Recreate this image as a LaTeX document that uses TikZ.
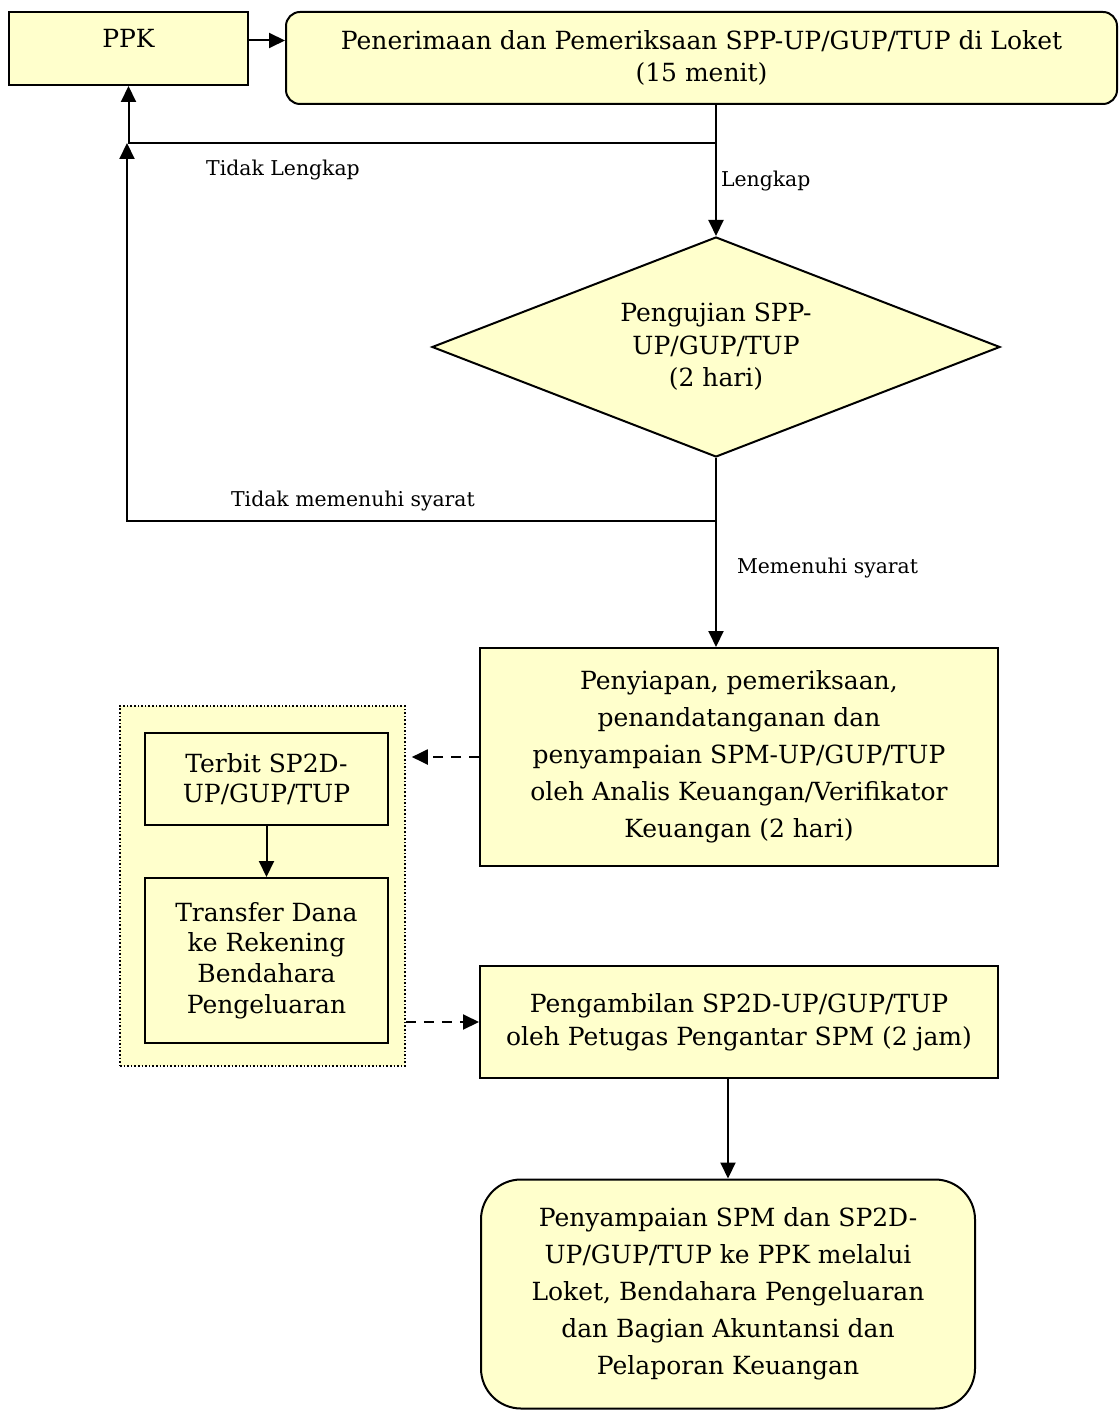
\documentclass[tikz,border=0pt]{standalone}
\usepackage{fontspec}
\setmainfont{DejaVu Serif}
\usepackage{tikz}
\usetikzlibrary{arrows.meta,shapes,positioning}
\usepackage{xcolor}
\definecolor{kuning}{RGB}{255,255,204}
\tikzstyle{arrow} = [line width=1pt,->,>={Triangle[length=8pt,width=7.5pt]}]
\tikzstyle{dasharrow} = [arrow, dashed, dash pattern=on 5pt off 4pt]
\tikzstyle{box} = [rectangle, draw=black, fill=kuning, line width=1pt, align=center, inner sep=0pt, font=\fontsize{12.5}{18.5}\selectfont]
\tikzstyle{roundbox} = [box, rounded corners=7pt]
\tikzstyle{smallbox} = [box, font=\fontsize{12.5}{15.3}\selectfont]
\tikzstyle{cek} = [diamond, aspect=2.6, draw=black, fill=kuning, line width=1pt, align=center, inner sep=0pt, font=\fontsize{12.5}{16.3}\selectfont]
\tikzstyle{ket} = [font=\fontsize{10.2}{12}\selectfont, inner sep=2pt]

\begin{document}
\begin{tikzpicture}[x=0.5pt, y=-0.5pt]
\useasboundingbox (0,0) rectangle (1118,1411);
% Boxes
\node (ppk) [box, minimum width=119.5pt, text height=18pt, text depth=18.5pt] at (128.5,48.5) {PPK};
\node (loket) [roundbox, minimum width=415.5pt, minimum height=46pt, font=\fontsize{12.5}{16}\selectfont] at (701.5,58)
  {Penerimaan dan Pemeriksaan SPP-UP/GUP/TUP di Loket\\(15 menit)};
\node (uji) [cek, minimum width=284pt, minimum height=110pt] at (716,347)
  {Pengujian SPP-\\UP/GUP/TUP\\(2 hari)};
\node (siap) [box, minimum width=259pt, minimum height=109pt] at (739,757)
  {Penyiapan, pemeriksaan,\\penandatanganan dan\\penyampaian SPM-UP/GUP/TUP\\oleh Analis Keuangan/Verifikator\\Keuangan (2 hari)};

% KPPN group
\node (grup) [rectangle, draw=black, fill=kuning, densely dotted, line width=0.8pt, minimum width=142.5pt, minimum height=180pt] at (262.5,886) {};
\node (terbit) [smallbox, minimum width=121.5pt, minimum height=46pt] at (266.5,779)
  {Terbit SP2D-\\UP/GUP/TUP};
\node (transfer) [smallbox, minimum width=121.5pt, minimum height=82.5pt] at (266.5,960.5)
  {Transfer Dana\\ke Rekening\\Bendahara\\Pengeluaran};

\node (ambil) [box, minimum width=259pt, minimum height=56pt, font=\fontsize{12.5}{16.5}\selectfont] at (739,1022)
  {Pengambilan SP2D-UP/GUP/TUP\\oleh Petugas Pengantar SPM (2 jam)};
\node (sampai) [box, rounded corners=20pt, minimum width=247pt, minimum height=114.5pt] at (728,1294)
  {Penyampaian SPM dan SP2D-\\UP/GUP/TUP ke PPK melalui\\Loket, Bendahara Pengeluaran\\dan Bagian Akuntansi dan\\Pelaporan Keuangan};

% Junctions
\coordinate (j1) at (127,143);
\coordinate (j2) at (127,521);

% Arrows
\draw[arrow] ([yshift=4pt]ppk.east) -- ([yshift=4pt]ppk.east -| loket.west);
\draw[arrow] (uji.north |- loket.south) -- (uji.north)
  node[ket, right, pos=0.58] {Lengkap};
\draw[arrow] (uji.north |- j1) -| (ppk.south);
\node[ket] (tl) at (283,170) {Tidak Lengkap};
\draw[arrow] (uji.south) -- (uji.south |- siap.north)
  node[ket, right, pos=0.58, xshift=8pt] {Memenuhi syarat};
\draw[arrow] (uji.south |- j2) -| (j1);
\node[ket] (tms) at (353,501) {Tidak memenuhi syarat};
\draw[dasharrow] (siap.west) -- ([xshift=3pt]siap.west -| grup.east);
\draw[arrow] (terbit) -- (transfer);
\draw[dasharrow] (grup.east |- ambil.west) -- (ambil.west);
\draw[arrow] (sampai.north |- ambil.south) -- (sampai.north);
\end{tikzpicture}
\end{document}
